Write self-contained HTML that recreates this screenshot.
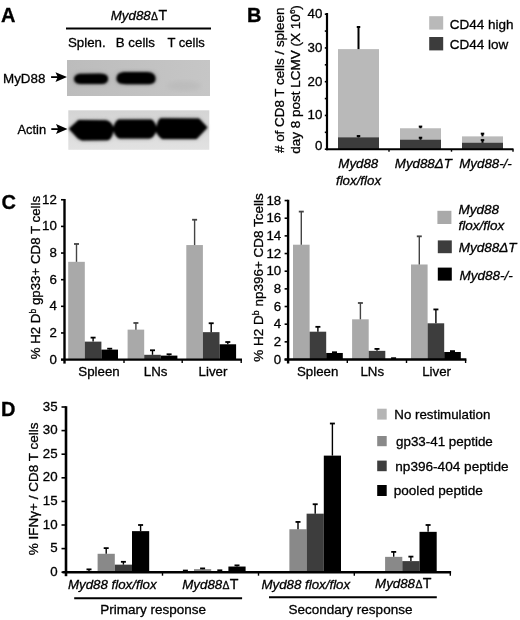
<!DOCTYPE html>
<html><head><meta charset="utf-8"><style>
html,body{margin:0;padding:0;background:#fff;width:520px;height:620px;overflow:hidden}
svg{display:block;will-change:transform}
text{font-family:"Liberation Sans",sans-serif;fill:#000;stroke:#000;stroke-width:0.3px}
</style></head><body>
<svg width="520" height="620" viewBox="0 0 520 620">
<rect width="520" height="620" fill="#fff"/>
<text x="1" y="21.6" font-size="20" text-anchor="start" font-weight="bold" >A</text>
<text x="110.8" y="20.4" font-size="13.3"><tspan font-style="italic">Myd88</tspan><tspan font-size="10.4" dx="0.4">Δ</tspan><tspan dx="0.3" font-size="14.2">T</tspan></text>
<line x1="66.00" y1="28.50" x2="211.00" y2="28.50" stroke="#000" stroke-width="2"/>
<text x="68" y="47" font-size="13.3" text-anchor="start"  >Splen.</text>
<text x="115.8" y="47" font-size="13.3" text-anchor="start"  >B cells</text>
<text x="167.5" y="47" font-size="13" text-anchor="start"  >T cells</text>
<defs><filter id="bl" x="-20%" y="-50%" width="140%" height="200%"><feGaussianBlur stdDeviation="1.0"/></filter><filter id="bl2" x="-20%" y="-20%" width="140%" height="140%"><feGaussianBlur stdDeviation="2"/></filter><linearGradient id="gA" x1="0" y1="0" x2="1" y2="0"><stop offset="0" stop-color="#bcbcbc"/><stop offset="0.6" stop-color="#c2c2c2"/><stop offset="1" stop-color="#c6c6c6"/></linearGradient><linearGradient id="gB" x1="0" y1="0" x2="0" y2="1"><stop offset="0" stop-color="#d4d4d4"/><stop offset="1" stop-color="#e2e2e2"/></linearGradient></defs>
<rect x="67.00" y="60.00" width="143.00" height="36.00" fill="url(#gA)" />
<g filter="url(#bl2)" fill="#555" opacity="0.35"><path d="M73 79 C73 74 77 73 82 73 L100 73 C107 73 109 76 109 78.7 C109 83 106 84.5 100 84.5 L82 84.5 C77 84.5 73 84 73 79 Z"/><path d="M115.5 78.5 C116 73.5 119 71.5 126 71.5 L147 71.5 C154 71.5 156.5 75 156.5 78.5 C156.5 82.5 154 84.7 147 84.7 L126 84.7 C119 84.7 115.5 83 115.5 78.5 Z"/></g>
<g filter="url(#bl)" fill="#030303"><path d="M74 79 C74.5 75 77 73.8 82 73.7 L100 73.6 C106 73.8 108 76 108 78.7 C108 82.5 105.5 84 100 84 L82 84 C77 84 74.5 83 74 79 Z"/><path d="M116.5 78.5 C117 74 119 72.1 126 72 L147 72 C153 72.2 155.5 75 155.5 78.7 C155.5 82.5 153 84.2 147 84.2 L126 84.2 C119 84.2 116.8 82.5 116.5 78.5 Z"/></g>
<ellipse cx="184" cy="86" rx="17" ry="5" fill="#b4b4b4" opacity="0.45" filter="url(#bl2)"/>
<rect x="68.30" y="110.30" width="141.00" height="39.50" fill="url(#gB)" />
<path d="M68.8 128.8 L78.5 120 L106 120.3 Q110.5 121 113.5 127 Q115.5 120.5 118.5 119.4 L151.5 119.4 Q154.5 121 156.5 126.8 Q158 119.5 160.5 118.3 L199 118.6 L207.5 127.4 L196.5 138.9 L162.5 138.9 Q159 137.5 156 131.8 Q153.5 138 149.5 138.5 L119.5 138.6 Q116 137.5 113.5 131.2 Q111.5 139.5 107.5 140.2 L82 140.4 L77.9 138.6 Z" fill="#444" opacity="0.45" filter="url(#bl2)"/>
<path d="M68.8 128.8 L78.5 120 L106 120.3 Q110.5 121 113.5 127 Q115.5 120.5 118.5 119.4 L151.5 119.4 Q154.5 121 156.5 126.8 Q158 119.5 160.5 118.3 L199 118.6 L207.5 127.4 L196.5 138.9 L162.5 138.9 Q159 137.5 156 131.8 Q153.5 138 149.5 138.5 L119.5 138.6 Q116 137.5 113.5 131.2 Q111.5 139.5 107.5 140.2 L82 140.4 L77.9 138.6 Z" fill="#030303" filter="url(#bl)"/>
<text x="3.0" y="82.6" font-size="13.4" text-anchor="start"  >MyD88</text>
<text x="17.5" y="133.8" font-size="12.9" text-anchor="start"  >Actin</text>
<line x1="51.1" y1="77.1" x2="61" y2="77.1" stroke="#000" stroke-width="1.8"/>
<path d="M55.5 72.3 L67 77.1 L55.5 81.89999999999999 L57.7 77.1 Z" fill="#000"/>
<line x1="51.3" y1="129.1" x2="61.5" y2="129.1" stroke="#000" stroke-width="1.8"/>
<path d="M56.0 124.1 L67.5 129.1 L56.0 134.1 L58.2 129.1 Z" fill="#000"/>
<text x="247.0" y="21.6" font-size="20" text-anchor="start" font-weight="bold" >B</text>
<rect x="338.00" y="49.13" width="41.00" height="100.07" fill="#b9b9b9" />
<rect x="338.00" y="137.39" width="41.00" height="11.81" fill="#3c3c3c" />
<line x1="358.50" y1="49.13" x2="358.50" y2="27.02" stroke="#000" stroke-width="2"/>
<line x1="356.75" y1="27.02" x2="360.25" y2="27.02" stroke="#000" stroke-width="2"/>
<line x1="358.50" y1="137.39" x2="358.50" y2="136.04" stroke="#000" stroke-width="2"/>
<line x1="356.75" y1="136.04" x2="360.25" y2="136.04" stroke="#000" stroke-width="2"/>
<rect x="400.00" y="128.27" width="41.00" height="20.93" fill="#b9b9b9" />
<rect x="400.00" y="139.75" width="41.00" height="9.45" fill="#3c3c3c" />
<line x1="420.50" y1="128.27" x2="420.50" y2="126.59" stroke="#000" stroke-width="2"/>
<line x1="418.75" y1="126.59" x2="422.25" y2="126.59" stroke="#000" stroke-width="2"/>
<line x1="420.50" y1="139.75" x2="420.50" y2="137.72" stroke="#000" stroke-width="2"/>
<line x1="418.75" y1="137.72" x2="422.25" y2="137.72" stroke="#000" stroke-width="2"/>
<rect x="462.00" y="136.38" width="41.00" height="12.82" fill="#b9b9b9" />
<rect x="462.00" y="142.79" width="41.00" height="6.41" fill="#3c3c3c" />
<line x1="482.50" y1="136.38" x2="482.50" y2="133.67" stroke="#000" stroke-width="2"/>
<line x1="480.75" y1="133.67" x2="484.25" y2="133.67" stroke="#000" stroke-width="2"/>
<line x1="482.50" y1="142.79" x2="482.50" y2="140.09" stroke="#000" stroke-width="2"/>
<line x1="480.75" y1="140.09" x2="484.25" y2="140.09" stroke="#000" stroke-width="2"/>
<line x1="327.00" y1="13.00" x2="327.00" y2="150.20" stroke="#000" stroke-width="2.2"/>
<line x1="326.00" y1="149.20" x2="513.50" y2="149.20" stroke="#000" stroke-width="2"/>
<line x1="324.80" y1="149.20" x2="327.00" y2="149.20" stroke="#000" stroke-width="1.6"/>
<text x="322.3" y="149.6" font-size="13.3" text-anchor="end"  >0</text>
<line x1="324.80" y1="132.32" x2="327.00" y2="132.32" stroke="#000" stroke-width="1.6"/>
<line x1="324.80" y1="115.45" x2="327.00" y2="115.45" stroke="#000" stroke-width="1.6"/>
<text x="322.3" y="119.44999999999999" font-size="13.3" text-anchor="end"  >10</text>
<line x1="324.80" y1="98.57" x2="327.00" y2="98.57" stroke="#000" stroke-width="1.6"/>
<line x1="324.80" y1="81.70" x2="327.00" y2="81.70" stroke="#000" stroke-width="1.6"/>
<text x="322.3" y="85.69999999999999" font-size="13.3" text-anchor="end"  >20</text>
<line x1="324.80" y1="64.82" x2="327.00" y2="64.82" stroke="#000" stroke-width="1.6"/>
<line x1="324.80" y1="47.95" x2="327.00" y2="47.95" stroke="#000" stroke-width="1.6"/>
<text x="322.3" y="51.94999999999999" font-size="13.3" text-anchor="end"  >30</text>
<line x1="324.80" y1="31.07" x2="327.00" y2="31.07" stroke="#000" stroke-width="1.6"/>
<line x1="324.80" y1="14.20" x2="327.00" y2="14.20" stroke="#000" stroke-width="1.6"/>
<text x="322.3" y="18.19999999999999" font-size="13.3" text-anchor="end"  >40</text>
<line x1="389.00" y1="149.20" x2="389.00" y2="151.70" stroke="#000" stroke-width="1.4"/>
<line x1="451.50" y1="149.20" x2="451.50" y2="151.70" stroke="#000" stroke-width="1.4"/>
<line x1="513.00" y1="149.20" x2="513.00" y2="151.70" stroke="#000" stroke-width="1.4"/>
<rect x="429.20" y="16.20" width="14.00" height="13.40" fill="#b9b9b9" />
<rect x="429.20" y="37.00" width="14.00" height="13.40" fill="#3c3c3c" />
<text x="449.8" y="28.8" font-size="13.5" text-anchor="start"  >CD44 high</text>
<text x="449.8" y="48.5" font-size="13.5" text-anchor="start"  >CD44 low</text>
<text x="358.3" y="167.9" font-size="13.3" text-anchor="middle" font-style="italic" >Myd88</text>
<text x="358.5" y="184.6" font-size="13.3" text-anchor="middle" font-style="italic" >flox/flox</text>
<text x="423.3" y="167.9" font-size="13.3" text-anchor="middle" font-style="italic">Myd88ΔT</text>
<text x="485.5" y="167.9" font-size="13.3" text-anchor="middle" font-style="italic" >Myd88-/-</text>
<text transform="translate(283.6,153) rotate(-90)" font-size="13.4">#&#160;of CD8 T cells / spleen</text>
<text transform="translate(299.5,153.7) rotate(-90)" font-size="13.5">day 8 post LCMV (X 10<tspan font-size="8" dy="-4.6">6</tspan><tspan dy="4.6">)</tspan></text>
<text x="1.5" y="209.3" font-size="20" text-anchor="start" font-weight="bold" >C</text>
<rect x="68.20" y="261.83" width="16.60" height="97.77" fill="#a9a9a9" />
<rect x="84.80" y="341.62" width="16.60" height="17.98" fill="#3d3d3d" />
<rect x="101.40" y="349.61" width="16.60" height="9.99" fill="#000" />
<rect x="127.60" y="329.63" width="16.60" height="29.97" fill="#a9a9a9" />
<rect x="144.20" y="354.80" width="16.60" height="4.80" fill="#3d3d3d" />
<rect x="160.80" y="355.60" width="16.60" height="4.00" fill="#000" />
<rect x="186.30" y="245.05" width="16.60" height="114.55" fill="#a9a9a9" />
<rect x="202.90" y="332.16" width="16.60" height="27.44" fill="#3d3d3d" />
<rect x="219.50" y="344.28" width="16.60" height="15.32" fill="#000" />
<line x1="76.50" y1="261.83" x2="76.50" y2="243.98" stroke="#444" stroke-width="1.4"/>
<line x1="74.00" y1="243.98" x2="79.00" y2="243.98" stroke="#444" stroke-width="1.8"/>
<line x1="93.10" y1="341.62" x2="93.10" y2="337.62" stroke="#000" stroke-width="1.4"/>
<line x1="90.60" y1="337.62" x2="95.60" y2="337.62" stroke="#000" stroke-width="1.8"/>
<line x1="109.70" y1="349.61" x2="109.70" y2="348.68" stroke="#000" stroke-width="1.4"/>
<line x1="107.20" y1="348.68" x2="112.20" y2="348.68" stroke="#000" stroke-width="1.8"/>
<line x1="135.90" y1="329.63" x2="135.90" y2="322.97" stroke="#444" stroke-width="1.4"/>
<line x1="133.40" y1="322.97" x2="138.40" y2="322.97" stroke="#444" stroke-width="1.8"/>
<line x1="152.50" y1="354.80" x2="152.50" y2="350.28" stroke="#000" stroke-width="1.4"/>
<line x1="150.00" y1="350.28" x2="155.00" y2="350.28" stroke="#000" stroke-width="1.8"/>
<line x1="169.10" y1="355.60" x2="169.10" y2="354.27" stroke="#000" stroke-width="1.4"/>
<line x1="166.60" y1="354.27" x2="171.60" y2="354.27" stroke="#000" stroke-width="1.8"/>
<line x1="194.60" y1="245.05" x2="194.60" y2="219.74" stroke="#444" stroke-width="1.4"/>
<line x1="192.10" y1="219.74" x2="197.10" y2="219.74" stroke="#444" stroke-width="1.8"/>
<line x1="211.20" y1="332.16" x2="211.20" y2="323.24" stroke="#000" stroke-width="1.4"/>
<line x1="208.70" y1="323.24" x2="213.70" y2="323.24" stroke="#000" stroke-width="1.8"/>
<line x1="227.80" y1="344.28" x2="227.80" y2="342.02" stroke="#000" stroke-width="1.4"/>
<line x1="225.30" y1="342.02" x2="230.30" y2="342.02" stroke="#000" stroke-width="1.8"/>
<line x1="64.50" y1="198.96" x2="64.50" y2="363.60" stroke="#000" stroke-width="2.4"/>
<line x1="61.00" y1="359.60" x2="242.00" y2="359.60" stroke="#000" stroke-width="2.4"/>
<line x1="61.00" y1="359.60" x2="64.50" y2="359.60" stroke="#000" stroke-width="1.6"/>
<text x="56.8" y="363.6" font-size="13.3" text-anchor="end"  >0</text>
<line x1="61.00" y1="332.96" x2="64.50" y2="332.96" stroke="#000" stroke-width="1.6"/>
<text x="56.8" y="336.96000000000004" font-size="13.3" text-anchor="end"  >2</text>
<line x1="61.00" y1="306.32" x2="64.50" y2="306.32" stroke="#000" stroke-width="1.6"/>
<text x="56.8" y="310.32000000000005" font-size="13.3" text-anchor="end"  >4</text>
<line x1="61.00" y1="279.68" x2="64.50" y2="279.68" stroke="#000" stroke-width="1.6"/>
<text x="56.8" y="283.68" font-size="13.3" text-anchor="end"  >6</text>
<line x1="61.00" y1="253.04" x2="64.50" y2="253.04" stroke="#000" stroke-width="1.6"/>
<text x="56.8" y="257.04" font-size="13.3" text-anchor="end"  >8</text>
<line x1="61.00" y1="226.40" x2="64.50" y2="226.40" stroke="#000" stroke-width="1.6"/>
<text x="56.8" y="230.40000000000003" font-size="13.3" text-anchor="end"  >10</text>
<line x1="61.00" y1="199.76" x2="64.50" y2="199.76" stroke="#000" stroke-width="1.6"/>
<text x="56.8" y="203.76000000000002" font-size="13.3" text-anchor="end"  >12</text>
<line x1="124.00" y1="359.60" x2="124.00" y2="363.10" stroke="#000" stroke-width="1.4"/>
<line x1="182.20" y1="359.60" x2="182.20" y2="363.10" stroke="#000" stroke-width="1.4"/>
<line x1="241.20" y1="359.60" x2="241.20" y2="363.10" stroke="#000" stroke-width="1.4"/>
<text x="99" y="375.8" font-size="13.3" text-anchor="middle"  >Spleen</text>
<text x="155.6" y="375.8" font-size="13.3" text-anchor="middle"  >LNs</text>
<text x="213.0" y="375.8" font-size="13.3" text-anchor="middle"  >Liver</text>
<text transform="translate(39.6,277.6) rotate(-90)" font-size="13.3" text-anchor="middle">% H2 D<tspan font-size="8.5" dy="-3.8">b</tspan><tspan dy="3.8"> gp33+ CD8 T cells</tspan></text>
<rect x="293.00" y="244.71" width="16.60" height="114.79" fill="#a9a9a9" />
<rect x="309.60" y="331.69" width="16.60" height="27.81" fill="#3d3d3d" />
<rect x="326.20" y="352.97" width="16.60" height="6.53" fill="#000" />
<rect x="352.10" y="319.32" width="16.60" height="40.18" fill="#a9a9a9" />
<rect x="368.70" y="350.85" width="16.60" height="8.65" fill="#3d3d3d" />
<rect x="411.00" y="264.49" width="16.60" height="95.01" fill="#a9a9a9" />
<rect x="427.60" y="323.30" width="16.60" height="36.20" fill="#3d3d3d" />
<rect x="444.20" y="351.99" width="16.60" height="7.51" fill="#000" />
<line x1="301.30" y1="244.71" x2="301.30" y2="211.60" stroke="#444" stroke-width="1.4"/>
<line x1="298.80" y1="211.60" x2="303.80" y2="211.60" stroke="#444" stroke-width="1.8"/>
<line x1="317.90" y1="331.69" x2="317.90" y2="326.83" stroke="#000" stroke-width="1.4"/>
<line x1="315.40" y1="326.83" x2="320.40" y2="326.83" stroke="#000" stroke-width="1.8"/>
<line x1="334.50" y1="352.97" x2="334.50" y2="352.26" stroke="#000" stroke-width="1.4"/>
<line x1="332.00" y1="352.26" x2="337.00" y2="352.26" stroke="#000" stroke-width="1.8"/>
<line x1="360.40" y1="319.32" x2="360.40" y2="302.99" stroke="#444" stroke-width="1.4"/>
<line x1="357.90" y1="302.99" x2="362.90" y2="302.99" stroke="#444" stroke-width="1.8"/>
<line x1="377.00" y1="350.85" x2="377.00" y2="348.90" stroke="#000" stroke-width="1.4"/>
<line x1="374.50" y1="348.90" x2="379.50" y2="348.90" stroke="#000" stroke-width="1.8"/>
<line x1="393.60" y1="359.50" x2="393.60" y2="358.18" stroke="#000" stroke-width="1.4"/>
<line x1="391.10" y1="358.18" x2="396.10" y2="358.18" stroke="#000" stroke-width="1.8"/>
<line x1="419.30" y1="264.49" x2="419.30" y2="236.32" stroke="#444" stroke-width="1.4"/>
<line x1="416.80" y1="236.32" x2="421.80" y2="236.32" stroke="#444" stroke-width="1.8"/>
<line x1="435.90" y1="323.30" x2="435.90" y2="309.43" stroke="#000" stroke-width="1.4"/>
<line x1="433.40" y1="309.43" x2="438.40" y2="309.43" stroke="#000" stroke-width="1.8"/>
<line x1="452.50" y1="351.99" x2="452.50" y2="351.11" stroke="#000" stroke-width="1.4"/>
<line x1="450.00" y1="351.11" x2="455.00" y2="351.11" stroke="#000" stroke-width="1.8"/>
<line x1="288.10" y1="199.76" x2="288.10" y2="363.50" stroke="#000" stroke-width="2.4"/>
<line x1="284.60" y1="359.50" x2="466.40" y2="359.50" stroke="#000" stroke-width="2.4"/>
<line x1="284.60" y1="359.50" x2="288.10" y2="359.50" stroke="#000" stroke-width="1.6"/>
<text x="281.2" y="363.5" font-size="13.3" text-anchor="end"  >0</text>
<line x1="284.60" y1="341.84" x2="288.10" y2="341.84" stroke="#000" stroke-width="1.6"/>
<text x="281.2" y="345.84" font-size="13.3" text-anchor="end"  >2</text>
<line x1="284.60" y1="324.18" x2="288.10" y2="324.18" stroke="#000" stroke-width="1.6"/>
<text x="281.2" y="328.18" font-size="13.3" text-anchor="end"  >4</text>
<line x1="284.60" y1="306.52" x2="288.10" y2="306.52" stroke="#000" stroke-width="1.6"/>
<text x="281.2" y="310.52" font-size="13.3" text-anchor="end"  >6</text>
<line x1="284.60" y1="288.86" x2="288.10" y2="288.86" stroke="#000" stroke-width="1.6"/>
<text x="281.2" y="292.86" font-size="13.3" text-anchor="end"  >8</text>
<line x1="284.60" y1="271.20" x2="288.10" y2="271.20" stroke="#000" stroke-width="1.6"/>
<text x="281.2" y="275.2" font-size="13.3" text-anchor="end"  >10</text>
<line x1="284.60" y1="253.54" x2="288.10" y2="253.54" stroke="#000" stroke-width="1.6"/>
<text x="281.2" y="257.53999999999996" font-size="13.3" text-anchor="end"  >12</text>
<line x1="284.60" y1="235.88" x2="288.10" y2="235.88" stroke="#000" stroke-width="1.6"/>
<text x="281.2" y="239.88" font-size="13.3" text-anchor="end"  >14</text>
<line x1="284.60" y1="218.22" x2="288.10" y2="218.22" stroke="#000" stroke-width="1.6"/>
<text x="281.2" y="222.22" font-size="13.3" text-anchor="end"  >16</text>
<line x1="284.60" y1="200.56" x2="288.10" y2="200.56" stroke="#000" stroke-width="1.6"/>
<text x="281.2" y="204.56" font-size="13.3" text-anchor="end"  >18</text>
<line x1="347.30" y1="359.50" x2="347.30" y2="363.00" stroke="#000" stroke-width="1.4"/>
<line x1="406.50" y1="359.50" x2="406.50" y2="363.00" stroke="#000" stroke-width="1.4"/>
<line x1="465.60" y1="359.50" x2="465.60" y2="363.00" stroke="#000" stroke-width="1.4"/>
<text x="317.7" y="375.8" font-size="13.3" text-anchor="middle"  >Spleen</text>
<text x="372.3" y="375.8" font-size="13.3" text-anchor="middle"  >LNs</text>
<text x="436.6" y="375.8" font-size="13.3" text-anchor="middle"  >Liver</text>
<text transform="translate(262.5,277.4) rotate(-90)" font-size="13.5" text-anchor="middle">% H2 D<tspan font-size="8.6" dy="-3.8">b</tspan><tspan dy="3.8"> np396+ CD8 Tcells</tspan></text>
<rect x="437.40" y="210.80" width="14.00" height="13.20" fill="#a9a9a9" />
<rect x="437.80" y="240.40" width="14.00" height="12.80" fill="#3d3d3d" />
<rect x="437.80" y="267.60" width="14.00" height="13.00" fill="#000" />
<text x="458.5" y="214" font-size="13.5" text-anchor="start" font-style="italic" >Myd88</text>
<text x="458.5" y="229.8" font-size="13.5" text-anchor="start" font-style="italic" >flox/flox</text>
<text x="458.7" y="252" font-size="13.5" font-style="italic">Myd88ΔT</text>
<text x="459.4" y="279.6" font-size="13.5" text-anchor="start" font-style="italic" >Myd88-/-</text>
<text x="1.0" y="415.6" font-size="20" text-anchor="start" font-weight="bold" >D</text>
<rect x="80.40" y="571.73" width="17.20" height="0.47" fill="#b5b5b5" />
<rect x="97.60" y="553.79" width="17.20" height="18.41" fill="#898989" />
<rect x="114.80" y="564.65" width="17.20" height="7.55" fill="#3d3d3d" />
<rect x="132.00" y="531.14" width="17.20" height="41.06" fill="#000" />
<rect x="176.80" y="571.73" width="17.20" height="0.47" fill="#b5b5b5" />
<rect x="194.00" y="569.13" width="17.20" height="3.07" fill="#898989" />
<rect x="211.20" y="571.73" width="17.20" height="0.47" fill="#3d3d3d" />
<rect x="228.40" y="566.54" width="17.20" height="5.66" fill="#000" />
<rect x="289.40" y="529.25" width="17.20" height="42.95" fill="#898989" />
<rect x="306.60" y="513.67" width="17.20" height="58.53" fill="#3d3d3d" />
<rect x="323.80" y="455.62" width="17.20" height="116.58" fill="#000" />
<rect x="385.10" y="556.86" width="17.20" height="15.34" fill="#898989" />
<rect x="402.30" y="561.11" width="17.20" height="11.09" fill="#3d3d3d" />
<rect x="419.50" y="531.84" width="17.20" height="40.36" fill="#000" />
<line x1="89.00" y1="571.73" x2="89.00" y2="569.37" stroke="#000" stroke-width="1.4"/>
<line x1="86.50" y1="569.37" x2="91.50" y2="569.37" stroke="#000" stroke-width="1.8"/>
<line x1="106.20" y1="553.79" x2="106.20" y2="548.13" stroke="#000" stroke-width="1.4"/>
<line x1="103.70" y1="548.13" x2="108.70" y2="548.13" stroke="#000" stroke-width="1.8"/>
<line x1="123.40" y1="564.65" x2="123.40" y2="561.82" stroke="#000" stroke-width="1.4"/>
<line x1="120.90" y1="561.82" x2="125.90" y2="561.82" stroke="#000" stroke-width="1.8"/>
<line x1="140.60" y1="531.14" x2="140.60" y2="525.00" stroke="#000" stroke-width="1.4"/>
<line x1="138.10" y1="525.00" x2="143.10" y2="525.00" stroke="#000" stroke-width="1.8"/>
<line x1="185.40" y1="571.73" x2="185.40" y2="570.55" stroke="#000" stroke-width="1.4"/>
<line x1="182.90" y1="570.55" x2="187.90" y2="570.55" stroke="#000" stroke-width="1.8"/>
<line x1="202.60" y1="569.13" x2="202.60" y2="568.42" stroke="#000" stroke-width="1.4"/>
<line x1="200.10" y1="568.42" x2="205.10" y2="568.42" stroke="#000" stroke-width="1.8"/>
<line x1="219.80" y1="571.73" x2="219.80" y2="570.31" stroke="#000" stroke-width="1.4"/>
<line x1="217.30" y1="570.31" x2="222.30" y2="570.31" stroke="#000" stroke-width="1.8"/>
<line x1="237.00" y1="566.54" x2="237.00" y2="565.36" stroke="#000" stroke-width="1.4"/>
<line x1="234.50" y1="565.36" x2="239.50" y2="565.36" stroke="#000" stroke-width="1.8"/>
<line x1="298.00" y1="529.25" x2="298.00" y2="521.93" stroke="#000" stroke-width="1.4"/>
<line x1="295.50" y1="521.93" x2="300.50" y2="521.93" stroke="#000" stroke-width="1.8"/>
<line x1="315.20" y1="513.67" x2="315.20" y2="504.23" stroke="#000" stroke-width="1.4"/>
<line x1="312.70" y1="504.23" x2="317.70" y2="504.23" stroke="#000" stroke-width="1.8"/>
<line x1="332.40" y1="455.62" x2="332.40" y2="423.52" stroke="#000" stroke-width="1.4"/>
<line x1="329.90" y1="423.52" x2="334.90" y2="423.52" stroke="#000" stroke-width="1.8"/>
<line x1="393.70" y1="556.86" x2="393.70" y2="551.90" stroke="#000" stroke-width="1.4"/>
<line x1="391.20" y1="551.90" x2="396.20" y2="551.90" stroke="#000" stroke-width="1.8"/>
<line x1="410.90" y1="561.11" x2="410.90" y2="556.62" stroke="#000" stroke-width="1.4"/>
<line x1="408.40" y1="556.62" x2="413.40" y2="556.62" stroke="#000" stroke-width="1.8"/>
<line x1="428.10" y1="531.84" x2="428.10" y2="525.00" stroke="#000" stroke-width="1.4"/>
<line x1="425.60" y1="525.00" x2="430.60" y2="525.00" stroke="#000" stroke-width="1.8"/>
<line x1="66.00" y1="406.20" x2="66.00" y2="576.20" stroke="#000" stroke-width="2.6"/>
<line x1="62.50" y1="572.20" x2="451.10" y2="572.20" stroke="#000" stroke-width="2.6"/>
<line x1="61.50" y1="572.20" x2="66.00" y2="572.20" stroke="#000" stroke-width="1.6"/>
<text x="57.6" y="575.7" font-size="13.3" text-anchor="end"  >0</text>
<line x1="61.50" y1="548.60" x2="66.00" y2="548.60" stroke="#000" stroke-width="1.6"/>
<text x="57.6" y="552.1" font-size="13.3" text-anchor="end"  >5</text>
<line x1="61.50" y1="525.00" x2="66.00" y2="525.00" stroke="#000" stroke-width="1.6"/>
<text x="57.6" y="528.5" font-size="13.3" text-anchor="end"  >10</text>
<line x1="61.50" y1="501.40" x2="66.00" y2="501.40" stroke="#000" stroke-width="1.6"/>
<text x="57.6" y="504.90000000000003" font-size="13.3" text-anchor="end"  >15</text>
<line x1="61.50" y1="477.80" x2="66.00" y2="477.80" stroke="#000" stroke-width="1.6"/>
<text x="57.6" y="481.30000000000007" font-size="13.3" text-anchor="end"  >20</text>
<line x1="61.50" y1="454.20" x2="66.00" y2="454.20" stroke="#000" stroke-width="1.6"/>
<text x="57.6" y="457.70000000000005" font-size="13.3" text-anchor="end"  >25</text>
<line x1="61.50" y1="430.60" x2="66.00" y2="430.60" stroke="#000" stroke-width="1.6"/>
<text x="57.6" y="434.1" font-size="13.3" text-anchor="end"  >30</text>
<line x1="61.50" y1="407.00" x2="66.00" y2="407.00" stroke="#000" stroke-width="1.6"/>
<text x="57.6" y="410.50000000000006" font-size="13.3" text-anchor="end"  >35</text>
<line x1="162.50" y1="572.20" x2="162.50" y2="575.70" stroke="#000" stroke-width="1.4"/>
<line x1="258.50" y1="572.20" x2="258.50" y2="575.70" stroke="#000" stroke-width="1.4"/>
<line x1="354.30" y1="572.20" x2="354.30" y2="575.70" stroke="#000" stroke-width="1.4"/>
<line x1="450.30" y1="572.20" x2="450.30" y2="575.70" stroke="#000" stroke-width="1.4"/>
<text transform="translate(37.6,488.9) rotate(-90)" font-size="13.5" text-anchor="middle">% IFNγ+ / CD8 T cells</text>
<text x="112.3" y="588.5" font-size="13.3" text-anchor="middle" font-style="italic" >Myd88 flox/flox</text>
<text x="210.4" y="588.6" font-size="13.3" text-anchor="middle"><tspan font-style="italic">Myd88</tspan><tspan font-size="10.4" dx="0.4">Δ</tspan><tspan dx="0.3" font-size="14.2">T</tspan></text>
<text x="305.8" y="588.5" font-size="13.3" text-anchor="middle" font-style="italic" >Myd88 flox/flox</text>
<text x="403.2" y="588.3" font-size="13.3" text-anchor="middle"><tspan font-style="italic">Myd88</tspan><tspan font-size="10.4" dx="0.4">Δ</tspan><tspan dx="0.3" font-size="14.2">T</tspan></text>
<line x1="74.20" y1="598.30" x2="242.10" y2="598.30" stroke="#000" stroke-width="2"/>
<line x1="269.00" y1="597.20" x2="436.80" y2="597.20" stroke="#000" stroke-width="2"/>
<text x="153.2" y="613.8" font-size="13.5" text-anchor="middle"  >Primary response</text>
<text x="350.5" y="614" font-size="13.5" text-anchor="middle"  >Secondary response</text>
<rect x="377.20" y="408.70" width="9.50" height="10.90" fill="#b5b5b5" />
<text x="394.3" y="418.7" font-size="13.3" text-anchor="start"  >No restimulation</text>
<rect x="377.20" y="436.00" width="9.50" height="10.20" fill="#898989" />
<text x="396" y="446.2" font-size="13.4" text-anchor="start"  >gp33-41 peptide</text>
<rect x="377.20" y="460.60" width="9.50" height="10.60" fill="#3d3d3d" />
<text x="395.3" y="470.7" font-size="13.6" text-anchor="start"  >np396-404 peptide</text>
<rect x="377.20" y="485.00" width="9.50" height="11.00" fill="#000" />
<text x="393.7" y="495.2" font-size="13.6" text-anchor="start"  >pooled peptide</text>
</svg>
</body></html>
